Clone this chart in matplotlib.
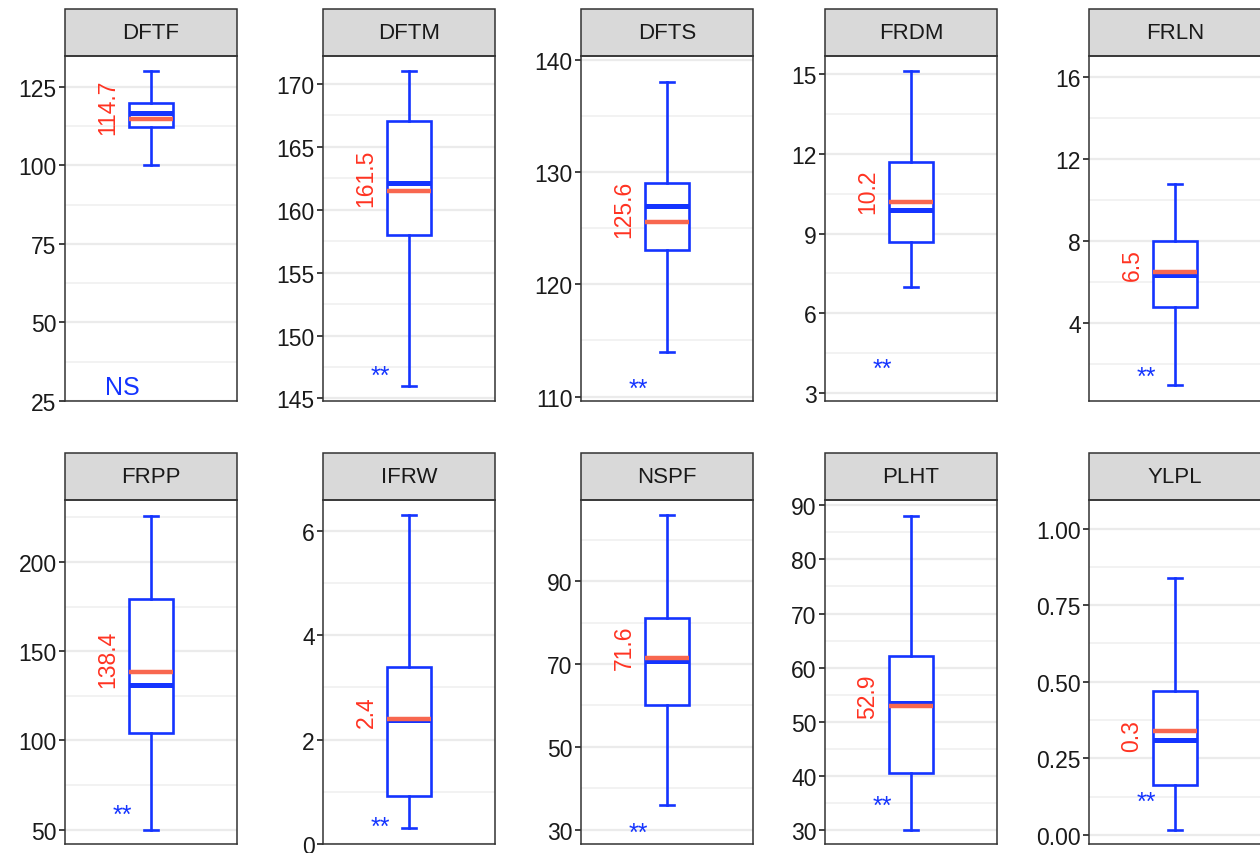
import matplotlib
matplotlib.use('Agg')
import matplotlib.pyplot as plt
from matplotlib.ticker import FixedLocator, AutoMinorLocator, FuncFormatter
from matplotlib.patches import Rectangle

plt.rcParams['font.family'] = ['Liberation Sans', 'DejaVu Sans']

# box statistics per trait
traits = ['DFTF', 'DFTM', 'DFTS', 'FRDM', 'FRLN', 'FRPP', 'IFRW', 'NSPF', 'PLHT', 'YLPL']
whislo = [100.0, 146.0, 114.0, 7.0, 1.0, 50.0, 0.30, 36.0, 30.0, 0.017]
q1 = [112.2, 158.0, 123.1, 8.7, 4.8, 104.1, 0.91, 60.0, 40.5, 0.164]
med = [116.6, 162.1, 127.0, 9.9, 6.35, 131.1, 2.37, 70.7, 53.4, 0.31]
q3 = [120.0, 167.0, 129.0, 11.7, 8.0, 179.1, 3.40, 81.1, 62.1, 0.469]
whishi = [130.0, 171.0, 138.0, 15.1, 10.8, 226.0, 6.3, 106.0, 88.1, 0.84]
means = [114.7, 161.5, 125.6, 10.2, 6.5, 138.4, 2.4, 71.6, 52.9, 0.34]
signif = ['NS', '**', '**', '**', '**', '**', '**', '**', '**', '**']
sig_y = [30.0, 147.4, 111.4, 4.18, 1.74, 62.6, 0.48, 31.1, 35.9, 0.134]
yticks = [[25, 50, 75, 100, 125],
          [145, 150, 155, 160, 165, 170],
          [110, 120, 130, 140],
          [3, 6, 9, 12, 15],
          [4, 8, 12, 16],
          [50, 100, 150, 200],
          [0, 2, 4, 6],
          [30, 50, 70, 90],
          [30, 40, 50, 60, 70, 80, 90],
          [0.0, 0.25, 0.50, 0.75, 1.00]]
ylims = [(25, 134.8), (144.8, 172.2), (109.6, 140.36), (2.7, 15.68), (0.21, 17.04),
         (42.0, 234.7), (0.0, 6.59), (26.5, 109.7), (27.4, 90.98), (-0.029, 1.093)]

BLUE = '#1434FF'
MEAN_LINE = '#F8674F'
MEAN_TXT = '#FF3322'
W, H = 1260, 854
lefts = [65, 323, 581, 825, 1089]
pw = 172
rows = [(57, 402), (501, 845)]
strip_h = 47
bw = 0.31

fig = plt.figure(figsize=(12.6, 8.54), dpi=100)

for i, name in enumerate(traits):
    r, c = divmod(i, 5)
    top, bot = rows[r]
    ph = bot - top
    ax = fig.add_axes([lefts[c] / W, 1 - bot / H, pw / W, ph / H])

    stats = [dict(med=med[i], q1=q1[i], q3=q3[i], whislo=whislo[i],
                  whishi=whishi[i], fliers=[])]
    ax.bxp(stats, positions=[1], widths=bw, capwidths=0.1, showfliers=False,
           patch_artist=True,
           boxprops=dict(facecolor='white', edgecolor=BLUE, linewidth=1.9),
           whiskerprops=dict(color=BLUE, linewidth=1.9),
           capprops=dict(color=BLUE, linewidth=1.9),
           medianprops=dict(color=BLUE, linewidth=3.6, solid_capstyle='butt'),
           zorder=3)
    ax.hlines(means[i], 1 - bw / 2, 1 + bw / 2, color=MEAN_LINE, lw=3.2, zorder=4)

    lab = f'{round(means[i], 1):g}'
    ax.annotate(lab, (0.7, round(means[i], 1)), xytext=(0, 1.9 * len(lab)),
                textcoords='offset points', rotation=90, ha='center',
                va='center', color=MEAN_TXT, fontsize=16.5, zorder=5)

    off = -5.5 if signif[i] == '**' else -1
    ax.annotate(signif[i], (0.8, sig_y[i]), xytext=(0, off),
                textcoords='offset points', ha='center', va='center',
                color=BLUE, fontsize=18, zorder=5)

    ax.set_xlim(0.4, 1.6)
    ax.set_ylim(*ylims[i])
    ax.set_xticks([])
    ax.yaxis.set_major_locator(FixedLocator(yticks[i]))
    ax.yaxis.set_minor_locator(AutoMinorLocator(2))
    if name == 'YLPL':
        ax.yaxis.set_major_formatter(FuncFormatter(lambda v, p: f'{v:.2f}'))
    else:
        ax.yaxis.set_major_formatter(FuncFormatter(lambda v, p: f'{v:g}'))
    ax.grid(which='major', axis='y', color='#EBEBEB', lw=1.6, zorder=0)
    ax.grid(which='minor', axis='y', color='#EFEFEF', lw=1.1, zorder=0)
    ax.set_axisbelow(True)
    ax.tick_params(axis='y', which='major', labelsize=16.5, length=4, width=1.3,
                   color='#333333', labelcolor='#1A1A1A', pad=2)
    ax.tick_params(axis='y', which='minor', length=0)
    for s in ax.spines.values():
        s.set_color('#333333')
        s.set_linewidth(1.1)

    # facet strip
    sh = strip_h / ph
    ax.add_patch(Rectangle((0, 1), 1, sh, transform=ax.transAxes, clip_on=False,
                           facecolor='#D9D9D9', edgecolor='#333333', lw=1.1))
    ax.text(0.5, 1 + sh / 2, name, transform=ax.transAxes, ha='center',
            va='center', fontsize=16, color='#1A1A1A')

fig.savefig('out.png', dpi=100)
